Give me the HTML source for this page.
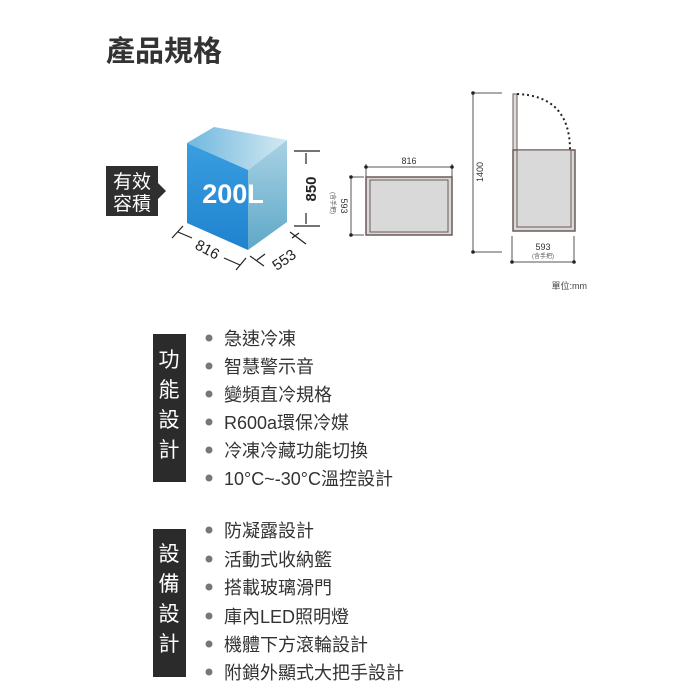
<!DOCTYPE html>
<html><head><meta charset="utf-8"><style>
html,body{margin:0;padding:0;background:#fff;width:700px;height:700px;overflow:hidden}
svg{display:block}
.c{font-family:"Liberation Sans","Noto Sans CJK TC",sans-serif}
</style></head><body>
<svg width="700" height="700" viewBox="0 0 700 700" class="c">
<defs>
<linearGradient id="tp" x1="0" y1="0" x2="1" y2="0"><stop offset="0" stop-color="#6fb7de"/><stop offset="1" stop-color="#d4e9f2"/></linearGradient>
<linearGradient id="rs" x1="0" y1="0" x2="0" y2="1"><stop offset="0" stop-color="#a8d2e4"/><stop offset="1" stop-color="#5ea8c8"/></linearGradient>
<linearGradient id="fr" x1="0" y1="0" x2="0" y2="1"><stop offset="0" stop-color="#3a9ee0"/><stop offset="1" stop-color="#1f82cf"/></linearGradient>
</defs>
<text x="106" y="61" font-size="29" font-weight="bold" fill="#333">產品規格</text>
<rect x="106" y="166" width="52" height="50" fill="#2f2f2f"/>
<polygon points="158,183 166,191 158,199" fill="#2f2f2f"/>
<text x="132" y="188" font-size="19" fill="#fff" text-anchor="middle">有效</text>
<text x="132" y="210" font-size="19" fill="#fff" text-anchor="middle">容積</text>
<!-- cube -->
<polygon points="187,143 214,127 287,140 248,170" fill="url(#tp)"/>
<polygon points="248,170 287,140 287,222 248,250" fill="url(#rs)"/>
<polygon points="187,143 248,170 248,250 187,223" fill="url(#fr)"/>
<text x="233" y="203" font-size="27" font-weight="bold" fill="#fff" text-anchor="middle">200L</text>
<g stroke="#222" stroke-width="1.2" fill="none">
<line x1="294" y1="151" x2="320" y2="151"/><line x1="294" y1="226" x2="320" y2="226"/>
<line x1="306" y1="153" x2="306" y2="164"/><line x1="306" y1="213" x2="306" y2="224"/>
<line x1="183" y1="226" x2="172" y2="238"/><line x1="246" y1="258" x2="236" y2="270"/>
<line x1="178" y1="232" x2="192" y2="238"/><line x1="224" y1="258" x2="240" y2="265"/>
<line x1="250" y1="256" x2="264" y2="266"/><line x1="290" y1="232" x2="306" y2="244"/>
<line x1="257" y1="260" x2="265" y2="254"/><line x1="292" y1="238" x2="299" y2="233"/>
</g>
<text x="316" y="189" font-size="15" font-weight="bold" fill="#222" text-anchor="middle" transform="rotate(-90 316 189)">850</text>
<text x="205" y="254" font-size="15" fill="#222" text-anchor="middle" transform="rotate(28 205 254)">816</text>
<text x="287" y="264" font-size="15" fill="#222" text-anchor="middle" transform="rotate(-35 287 264)">553</text>
<text x="331" y="203" font-size="6" fill="#555" text-anchor="middle" transform="rotate(90 331 203)">(含手把)</text>
<!-- top view -->
<g stroke="#555" stroke-width="1" fill="none">
<line x1="366" y1="167" x2="452" y2="167"/><line x1="366" y1="164" x2="366" y2="178"/><line x1="452" y1="164" x2="452" y2="178"/>
<line x1="351" y1="177" x2="351" y2="235"/><line x1="351" y1="177" x2="364" y2="177"/><line x1="351" y1="235" x2="364" y2="235"/>
</g>
<rect x="366" y="177" width="86" height="58" fill="#d9d9d9" stroke="#6b5a58" stroke-width="1.5"/>
<rect x="370" y="180" width="78" height="52" fill="#d9d9d9" stroke="#6b5a58" stroke-width="1"/>
<circle cx="366" cy="167" r="1.8" fill="#222"/><circle cx="452" cy="167" r="1.8" fill="#222"/>
<circle cx="351" cy="177" r="1.8" fill="#222"/><circle cx="351" cy="235" r="1.8" fill="#222"/>
<text x="409" y="164" font-size="9" fill="#333" text-anchor="middle">816</text>
<text x="341" y="206" font-size="9" fill="#333" text-anchor="middle" transform="rotate(90 341 206)">593</text>
<!-- side view -->
<g stroke="#555" stroke-width="1" fill="none">
<line x1="473" y1="93" x2="502" y2="93"/><line x1="473" y1="252" x2="502" y2="252"/>
<line x1="473" y1="93" x2="473" y2="252"/>
<line x1="512" y1="236" x2="512" y2="262"/><line x1="574" y1="236" x2="574" y2="262"/>
<line x1="512" y1="262" x2="574" y2="262"/>
</g>
<circle cx="473" cy="93" r="1.8" fill="#222"/><circle cx="473" cy="252" r="1.8" fill="#222"/>
<circle cx="512" cy="262" r="1.8" fill="#222"/><circle cx="574" cy="262" r="1.8" fill="#222"/>
<text x="483" y="172" font-size="9" fill="#333" text-anchor="middle" transform="rotate(-90 483 172)">1400</text>
<rect x="513" y="94" width="4" height="56" fill="#ddd" stroke="#6b5a58" stroke-width="1"/>
<path d="M517,94 Q570,96 570,150" fill="none" stroke="#222" stroke-width="2" stroke-dasharray="2,3"/>
<rect x="513" y="150" width="62" height="81" fill="#d9d9d9" stroke="#6b5a58" stroke-width="1.5"/>
<rect x="517" y="150" width="54" height="77" fill="#d9d9d9" stroke="#6b5a58" stroke-width="1"/>
<text x="543" y="250" font-size="9" fill="#333" text-anchor="middle">593</text>
<text x="543" y="258" font-size="6" fill="#555" text-anchor="middle">(含手把)</text>
<text x="587" y="289" font-size="9" fill="#444" text-anchor="end">單位:mm</text>
<!-- feature boxes -->
<rect x="153" y="334" width="33" height="148" fill="#2b2b2b"/>
<g font-size="21" fill="#fff" text-anchor="middle">
<text x="169" y="367">功</text><text x="169" y="397">能</text><text x="169" y="427">設</text><text x="169" y="457">計</text>
</g>
<rect x="153" y="529" width="33" height="148" fill="#2b2b2b"/>
<g font-size="21" fill="#fff" text-anchor="middle">
<text x="169" y="561">設</text><text x="169" y="591">備</text><text x="169" y="621">設</text><text x="169" y="651">計</text>
</g>
<g fill="#777">
<circle cx="209" cy="338" r="3.5"/><circle cx="209" cy="366" r="3.5"/><circle cx="209" cy="394" r="3.5"/><circle cx="209" cy="422" r="3.5"/><circle cx="209" cy="450" r="3.5"/><circle cx="209" cy="478" r="3.5"/>
<circle cx="209" cy="530" r="3.5"/><circle cx="209" cy="559" r="3.5"/><circle cx="209" cy="587" r="3.5"/><circle cx="209" cy="616" r="3.5"/><circle cx="209" cy="644" r="3.5"/><circle cx="209" cy="672" r="3.5"/>
</g>
<g font-size="18" fill="#333">
<text x="224" y="345">急速冷凍</text>
<text x="224" y="373">智慧警示音</text>
<text x="224" y="401">變頻直冷規格</text>
<text x="224" y="429">R600a環保冷媒</text>
<text x="224" y="457">冷凍冷藏功能切換</text>
<text x="224" y="485">10°C~-30°C溫控設計</text>
<text x="224" y="537">防凝露設計</text>
<text x="224" y="566">活動式收納籃</text>
<text x="224" y="594">搭載玻璃滑門</text>
<text x="224" y="623">庫內LED照明燈</text>
<text x="224" y="651">機體下方滾輪設計</text>
<text x="224" y="679">附鎖外顯式大把手設計</text>
</g>
</svg>
</body></html>
